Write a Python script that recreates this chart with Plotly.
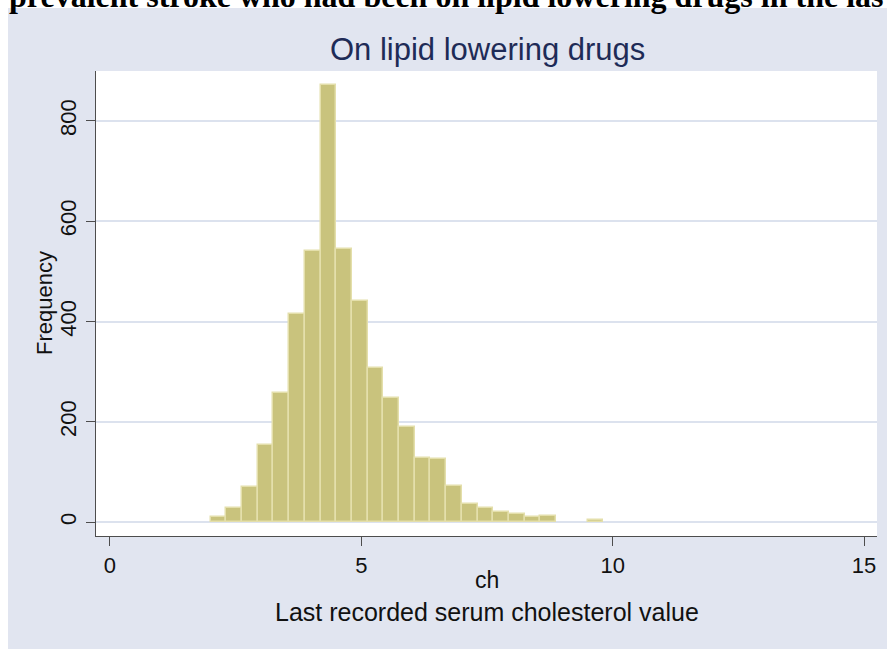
import plotly.graph_objects as go

# ---- data ----
bin_start = 2.0
bin_width = 0.3125
counts = [11, 28, 71, 153, 258, 416, 541, 871, 544, 441, 308, 247, 190,
          129, 127, 73, 37, 28, 21, 16, 11, 12, 0, 0, 5]
x_ticks = [0, 5, 10, 15]
y_ticks = [0, 200, 400, 600, 800]
page_title = "prevalent stroke who had been on lipid lowering drugs in the las"
chart_title = "On lipid lowering drugs"
x_title = "ch"
note_text = "Last recorded serum cholesterol value"
y_title = "Frequency"

centers = [bin_start + bin_width * (i + 0.5) for i in range(len(counts))]
bar_x = [c for c, n in zip(centers, counts) if n > 0]
bar_y = [n for n in counts if n > 0]

BG = "#E1E5F0"
GRID = "#DCE2EE"
AXIS = "#4d4d4d"
FONT = "Liberation Sans, Arial, sans-serif"

W, H = 887, 649
ML, MR, MT, MB = 96, 10, 71, 113
PW = W - ML - MR
PH = H - MT - MB


def px_x(px):
    return (px - ML) / PW


def px_y(py):
    return (H - MB - py) / PH


fig = go.Figure()
fig.add_trace(go.Bar(
    x=bar_x, y=bar_y, width=bin_width,
    marker=dict(color="#C9C37D", line=dict(color="#E4DFAB", width=1.5)),
    showlegend=False,
))

fig.update_layout(
    width=W, height=H, autosize=False,
    margin=dict(l=ML, r=MR, t=MT, b=MB, pad=0, autoexpand=False),
    paper_bgcolor=BG, plot_bgcolor="white",
    font=dict(family=FONT, color="#111111"),
    bargap=0,
    xaxis=dict(
        range=[-0.278, 15.257], tickvals=x_ticks, ticks="outside", ticklen=9,
        tickwidth=1.2, tickcolor=AXIS, showline=True, linecolor=AXIS, linewidth=1.3,
        showgrid=False, zeroline=False, tickfont=dict(size=22, color="#111111"),
        ticklabelstandoff=0,
    ),
    yaxis=dict(
        range=[-27.5, 899.6], tickvals=y_ticks, ticks="outside", ticklen=9,
        tickwidth=1.2, tickcolor=AXIS, showline=True, linecolor=AXIS, linewidth=1.3,
        showgrid=True, gridcolor=GRID, gridwidth=1.5,
        zeroline=True, zerolinecolor=GRID, zerolinewidth=1.5,
        tickangle=-90, tickfont=dict(size=22, color="#111111"),
        ticklabelstandoff=1,
    ),
    shapes=[
        dict(type="rect", xref="paper", yref="paper", layer="below",
             x0=px_x(0), x1=px_x(W), y0=px_y(8), y1=px_y(0),
             fillcolor="white", line=dict(width=0)),
        dict(type="rect", xref="paper", yref="paper", layer="below",
             x0=px_x(0), x1=px_x(8), y0=px_y(H), y1=px_y(0),
             fillcolor="white", line=dict(width=0)),
    ],
    annotations=[
        dict(text="<b>" + page_title + "</b>", xref="paper", yref="paper",
             x=px_x(8), y=px_y(15), xanchor="left", yanchor="bottom",
             showarrow=False, borderpad=0,
             font=dict(family="Liberation Serif, Times New Roman, serif", size=32, color="black")),
        dict(text=chart_title, xref="paper", yref="paper",
             x=px_x(487.5), y=px_y(49.3), xanchor="center", yanchor="middle",
             showarrow=False, font=dict(size=31, color="#1E2B57")),
        dict(text=y_title, xref="paper", yref="paper", textangle=-90,
             x=px_x(44.5), y=px_y(303.5), xanchor="center", yanchor="middle",
             showarrow=False, font=dict(size=22, color="#111111")),
        dict(text=x_title, xref="paper", yref="paper",
             x=px_x(487), y=px_y(580), xanchor="center", yanchor="middle",
             showarrow=False, font=dict(size=23, color="#111111")),
        dict(text=note_text, xref="paper", yref="paper",
             x=px_x(486.5), y=px_y(612), xanchor="center", yanchor="middle",
             showarrow=False, font=dict(size=25, color="#111111")),
    ],
)

fig.write_html(
    "out.html",
    config={"displayModeBar": False},
    post_script="document.body.style.margin='0px';document.body.style.overflow='hidden';",
)
